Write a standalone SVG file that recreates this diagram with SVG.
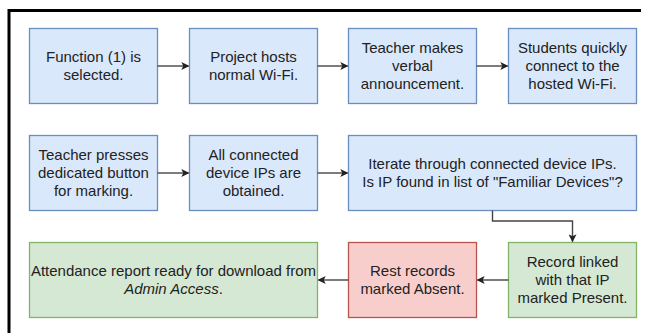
<svg xmlns="http://www.w3.org/2000/svg" width="646" height="333" viewBox="0 0 646 333">
<defs>
<style>
.blue{fill:#dae8fc;stroke:#6c8ebf;stroke-width:1.3}
.green{fill:#d5e8d4;stroke:#82b366;stroke-width:1.3}
.red{fill:#f8cecc;stroke:#b85450;stroke-width:1.3}
text{font-family:"Liberation Sans",Arial,sans-serif;font-size:15px;fill:#222;text-anchor:middle}
.edge{fill:none;stroke:#444;stroke-width:1.4}
</style>
<marker id="arr" viewBox="0 0 10 10" refX="9" refY="5" markerWidth="8" markerHeight="8" markerUnits="userSpaceOnUse" orient="auto">
<path d="M0,0 L10,5 L0,10 L2.5,5 Z" fill="#222"/>
</marker>
</defs>
<rect width="646" height="333" fill="#fff"/>
<path d="M9 333 V10.5 H641" fill="none" stroke="#000" stroke-width="3"/>

<g id="n1"><rect class="blue" x="29.5" y="28.5" width="128" height="75"/>
<text x="93.5" y="62.3">Function (1) is</text><text x="93.5" y="80.3">selected.</text></g>
<g id="n2"><rect class="blue" x="189.5" y="28.5" width="128" height="75"/>
<text x="253.5" y="62.3">Project hosts</text><text x="253.5" y="80.3">normal Wi-Fi.</text></g>
<g id="n3"><rect class="blue" x="348.5" y="28.5" width="128" height="75"/>
<text x="412.5" y="53.3">Teacher makes</text><text x="412.5" y="71.3">verbal</text><text x="412.5" y="89.3">announcement.</text></g>
<g id="n4"><rect class="blue" x="508.5" y="28.5" width="128" height="75"/>
<text x="572.5" y="53.3">Students quickly</text><text x="572.5" y="71.3">connect to the</text><text x="572.5" y="89.3">hosted Wi-Fi.</text></g>

<g id="n5"><rect class="blue" x="29.5" y="135.5" width="128" height="75"/>
<text x="93.5" y="160.3">Teacher presses</text><text x="93.5" y="178.3">dedicated button</text><text x="93.5" y="196.3">for marking.</text></g>
<g id="n6"><rect class="blue" x="189.5" y="135.5" width="128" height="75"/>
<text x="253.5" y="160.3">All connected</text><text x="253.5" y="178.3">device IPs are</text><text x="253.5" y="196.3">obtained.</text></g>
<g id="n7"><rect class="blue" x="348.5" y="135.5" width="288" height="75"/>
<text x="492.5" y="169.3">Iterate through connected device IPs.</text><text x="492.5" y="187.3">Is IP found in list of "Familiar Devices"?</text></g>

<g id="n8"><rect class="green" x="29.5" y="242.5" width="288" height="75"/>
<text x="173.5" y="276.3">Attendance report ready for download from</text><text x="173.5" y="294.3"><tspan font-style="italic">Admin Access</tspan>.</text></g>
<g id="n9"><rect class="red" x="348.5" y="242.5" width="128" height="75"/>
<text x="412.5" y="276.3">Rest records</text><text x="412.5" y="294.3">marked Absent.</text></g>
<g id="n10"><rect class="green" x="508.5" y="242.5" width="128" height="75"/>
<text x="572.5" y="267.3">Record linked</text><text x="572.5" y="285.3">with that IP</text><text x="572.5" y="303.3">marked Present.</text></g>

<g id="edges">
<path class="edge" d="M157.5 66 H188.5" marker-end="url(#arr)"/>
<path class="edge" d="M317.5 66 H347.5" marker-end="url(#arr)"/>
<path class="edge" d="M476.5 66 H507.5" marker-end="url(#arr)"/>
<path class="edge" d="M157.5 173 H188.5" marker-end="url(#arr)"/>
<path class="edge" d="M317.5 173 H347.5" marker-end="url(#arr)"/>
<path class="edge" d="M492.5 210.5 V221 H572.5 V241.5" marker-end="url(#arr)"/>
<path class="edge" d="M508.5 280 H477.5" marker-end="url(#arr)"/>
<path class="edge" d="M348.5 280 H318.5" marker-end="url(#arr)"/>
</g>
</svg>
